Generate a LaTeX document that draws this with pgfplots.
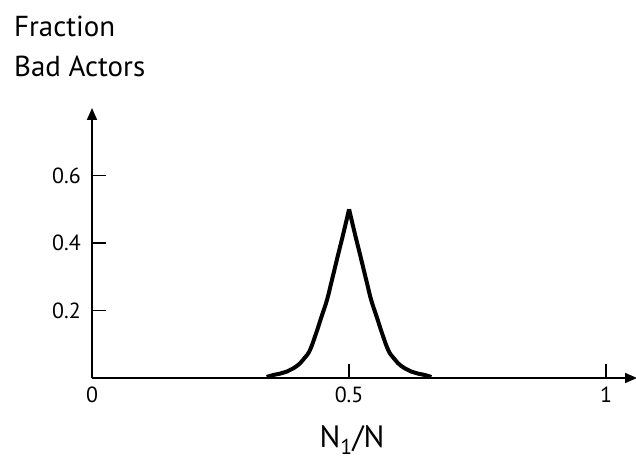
\documentclass[border=0pt]{standalone}
\usepackage{pgfplots}
\pgfplotsset{compat=1.18}
\usepackage{fontspec}
\setmainfont{PT Sans}
\usetikzlibrary{arrows.meta}

\pgfplotstableread{
x y
0.340 0.003
0.353 0.009
0.366 0.013
0.379 0.019
0.392 0.029
0.405 0.044
0.415 0.062
0.424 0.083
0.436 0.133
0.446 0.180
0.457 0.231
0.465 0.280
0.473 0.330
0.481 0.380
0.489 0.429
0.500 0.500
}\leftside

\pgfplotstableread{
x y
0.500 0.500
0.511 0.429
0.519 0.380
0.527 0.330
0.535 0.280
0.543 0.231
0.554 0.180
0.564 0.133
0.576 0.083
0.585 0.062
0.595 0.044
0.608 0.029
0.621 0.019
0.634 0.013
0.647 0.009
0.660 0.003
}\rightside

\begin{document}
\begin{tikzpicture}[x=1bp,y=1bp]
\path[use as bounding box] (0,0) rectangle (636,462);
\begin{axis}[
    at={(92bp,84bp)}, anchor=south west,
    scale only axis,
    width=545bp, height=270bp,
    xmin=0, xmax=1.06,
    ymin=0, ymax=0.80,
    axis lines=left,
    axis line style={line width=1.7bp, -{Triangle[width=10bp,length=12bp]}},
    xtick={0,0.5,1}, xticklabels={0,0.5,1},
    ytick={0.2,0.4,0.6}, yticklabels={0.2,0.4,0.6},
    tick align=inside,
    major tick length=14bp,
    tick style={line width=1.5bp, black},
    every x tick/.style={line width=1.5bp, black},
    every y tick/.style={line width=1.5bp, black},
    ticklabel style={font=\fontsize{22}{24}\selectfont, inner sep=0pt},
    xticklabel style={anchor=north, yshift=-9bp},
    yticklabel style={anchor=east, xshift=-11bp},
    clip=false,
]
\addplot[black, line width=4bp, smooth, tension=0.7] table {\leftside};
\addplot[black, line width=4bp, smooth, tension=0.7] table {\rightside};
\end{axis}
\node[anchor=base west, inner sep=0pt, font=\fontsize{29}{30}\selectfont] at (14,425) {Fraction};
\node[anchor=base west, inner sep=0pt, font=\fontsize{29}{30}\selectfont] at (14,385) {Bad Actors};
\node[anchor=base, inner sep=0pt, font=\fontsize{31}{34}\selectfont] at (352,14) {N\textsubscript{1}/N};
\end{tikzpicture}
\end{document}
